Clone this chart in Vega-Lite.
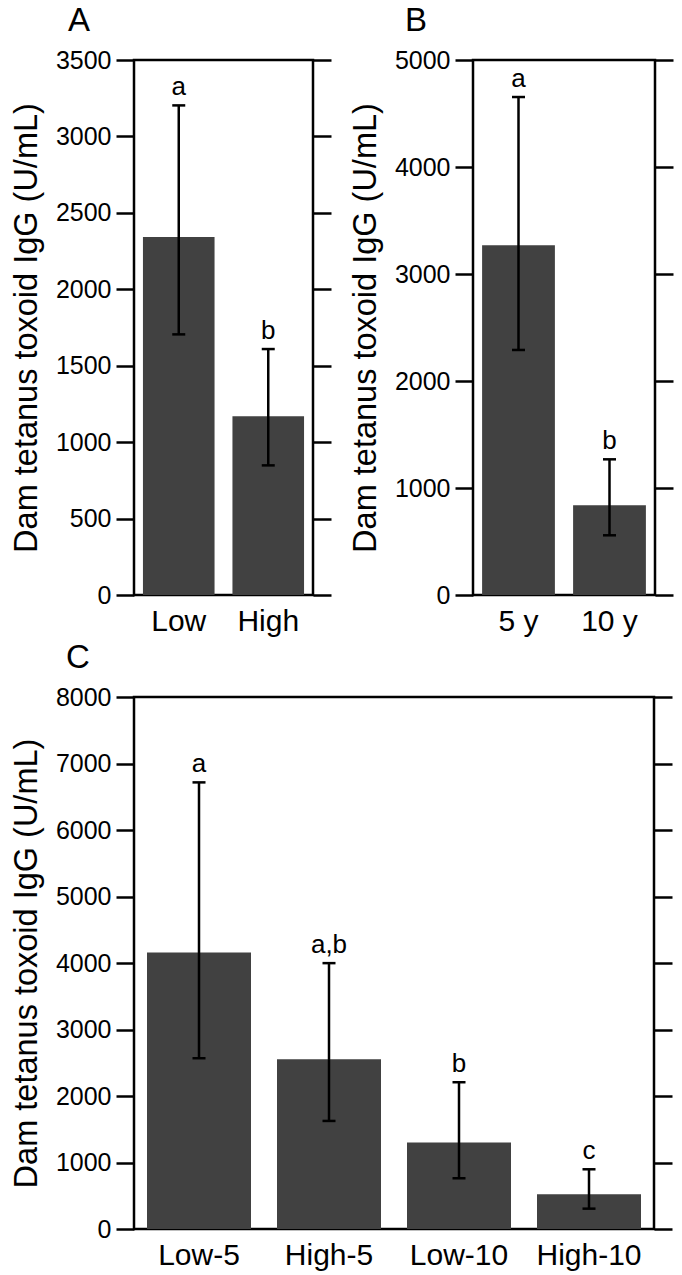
{
  "$schema": "https://vega.github.io/schema/vega-lite/v6.json",
  "padding": {"left": 9, "top": 3, "right": 2, "bottom": 0},
  "background": "white",
  "datasets": {
    "A": [
      {"group": "Low", "mean": 2342, "lo": 1705, "hi": 3203, "letter": "a"},
      {"group": "High", "mean": 1169, "lo": 848, "hi": 1609, "letter": "b"}
    ],
    "B": [
      {"group": "5 y", "mean": 3268, "lo": 2290, "hi": 4654, "letter": "a"},
      {"group": "10 y", "mean": 838, "lo": 558, "hi": 1268, "letter": "b"}
    ],
    "C": [
      {"group": "Low-5", "mean": 4157, "lo": 2568, "hi": 6716, "letter": "a"},
      {"group": "High-5", "mean": 2553, "lo": 1625, "hi": 3998, "letter": "a,b"},
      {"group": "Low-10", "mean": 1299, "lo": 763, "hi": 2207, "letter": "b"},
      {"group": "High-10", "mean": 522, "lo": 306, "hi": 898, "letter": "c"}
    ]
  },
  "spacing": 2,
  "vconcat": [
    {
      "spacing": 14,
      "hconcat": [
        {
          "title": {"text": "A", "dx": -66},
          "width": 179,
          "height": 535,
          "data": {"name": "A"},
          "encoding": {
            "x": {"field": "group", "type": "nominal", "sort": null, "scale": {"paddingInner": 0.2, "paddingOuter": 0.1}, "axis": {"title": null}}
          },
          "layer": [
            {"mark": {"type": "bar", "color": "#414141"},
             "encoding": {"y": {"field": "mean", "type": "quantitative", "scale": {"domain": [0, 3500], "nice": false}, "axis": {"orient": "left", "format": "d", "values": [0, 500, 1000, 1500, 2000, 2500, 3000, 3500], "title": "Dam tetanus toxoid IgG (U/mL)"}}}},
            {"mark": {"type": "rule", "color": "black", "strokeWidth": 2.5},
             "encoding": {"y": {"field": "lo", "type": "quantitative", "scale": {"domain": [0, 3500], "nice": false}, "axis": {"orient": "right", "values": [0, 500, 1000, 1500, 2000, 2500, 3000, 3500], "labels": false, "title": null}}, "y2": {"field": "hi"}}},
            {"mark": {"type": "tick", "color": "black", "size": 13, "thickness": 2.5, "opacity": 1},
             "encoding": {"y": {"field": "hi", "type": "quantitative", "scale": {"domain": [0, 3500], "nice": false}, "axis": null}}},
            {"mark": {"type": "tick", "color": "black", "size": 13, "thickness": 2.5, "opacity": 1},
             "encoding": {"y": {"field": "lo", "type": "quantitative", "scale": {"domain": [0, 3500], "nice": false}, "axis": null}}},
            {"mark": {"type": "text", "baseline": "alphabetic", "dy": -10, "fontSize": 26, "color": "black"},
             "encoding": {"y": {"field": "hi", "type": "quantitative", "scale": {"domain": [0, 3500], "nice": false}, "axis": null}, "text": {"field": "letter"}}}
          ],
          "resolve": {"scale": {"y": "independent"}}
        },
        {
          "title": {"text": "B", "dx": -68},
          "width": 182,
          "height": 535,
          "data": {"name": "B"},
          "encoding": {
            "x": {"field": "group", "type": "nominal", "sort": null, "scale": {"paddingInner": 0.2, "paddingOuter": 0.1}, "axis": {"title": null}}
          },
          "layer": [
            {"mark": {"type": "bar", "color": "#414141"},
             "encoding": {"y": {"field": "mean", "type": "quantitative", "scale": {"domain": [0, 5000], "nice": false}, "axis": {"orient": "left", "format": "d", "values": [0, 1000, 2000, 3000, 4000, 5000], "title": "Dam tetanus toxoid IgG (U/mL)"}}}},
            {"mark": {"type": "rule", "color": "black", "strokeWidth": 2.5},
             "encoding": {"y": {"field": "lo", "type": "quantitative", "scale": {"domain": [0, 5000], "nice": false}, "axis": {"orient": "right", "values": [0, 1000, 2000, 3000, 4000, 5000], "labels": false, "title": null}}, "y2": {"field": "hi"}}},
            {"mark": {"type": "tick", "color": "black", "size": 13, "thickness": 2.5, "opacity": 1},
             "encoding": {"y": {"field": "hi", "type": "quantitative", "scale": {"domain": [0, 5000], "nice": false}, "axis": null}}},
            {"mark": {"type": "tick", "color": "black", "size": 13, "thickness": 2.5, "opacity": 1},
             "encoding": {"y": {"field": "lo", "type": "quantitative", "scale": {"domain": [0, 5000], "nice": false}, "axis": null}}},
            {"mark": {"type": "text", "baseline": "alphabetic", "dy": -10, "fontSize": 26, "color": "black"},
             "encoding": {"y": {"field": "hi", "type": "quantitative", "scale": {"domain": [0, 5000], "nice": false}, "axis": null}, "text": {"field": "letter"}}}
          ],
          "resolve": {"scale": {"y": "independent"}}
        }
      ]
    },
    {
      "title": {"text": "C", "dx": -68},
      "width": 520,
      "height": 532,
      "data": {"name": "C"},
      "encoding": {
        "x": {"field": "group", "type": "nominal", "sort": null, "scale": {"paddingInner": 0.2, "paddingOuter": 0.1}, "axis": {"title": null}}
      },
      "layer": [
        {"mark": {"type": "bar", "color": "#414141"},
         "encoding": {"y": {"field": "mean", "type": "quantitative", "scale": {"domain": [0, 8000], "nice": false}, "axis": {"orient": "left", "format": "d", "values": [0, 1000, 2000, 3000, 4000, 5000, 6000, 7000, 8000], "title": "Dam tetanus toxoid IgG (U/mL)"}}}},
        {"mark": {"type": "rule", "color": "black", "strokeWidth": 2.5},
         "encoding": {"y": {"field": "lo", "type": "quantitative", "scale": {"domain": [0, 8000], "nice": false}, "axis": {"orient": "right", "values": [0, 1000, 2000, 3000, 4000, 5000, 6000, 7000, 8000], "labels": false, "title": null}}, "y2": {"field": "hi"}}},
        {"mark": {"type": "tick", "color": "black", "size": 13, "thickness": 2.5, "opacity": 1},
         "encoding": {"y": {"field": "hi", "type": "quantitative", "scale": {"domain": [0, 8000], "nice": false}, "axis": null}}},
        {"mark": {"type": "tick", "color": "black", "size": 13, "thickness": 2.5, "opacity": 1},
         "encoding": {"y": {"field": "lo", "type": "quantitative", "scale": {"domain": [0, 8000], "nice": false}, "axis": null}}},
        {"mark": {"type": "text", "baseline": "alphabetic", "dy": -10, "fontSize": 26, "color": "black"},
         "encoding": {"y": {"field": "hi", "type": "quantitative", "scale": {"domain": [0, 8000], "nice": false}, "axis": null}, "text": {"field": "letter"}}}
      ],
      "resolve": {"scale": {"y": "independent"}}
    }
  ],
  "config": {
    "font": "Liberation Sans",
    "view": {"stroke": "black", "strokeWidth": 2.5},
    "title": {"anchor": "start", "frame": "group", "fontSize": 33, "fontWeight": "normal", "color": "black", "baseline": "alphabetic", "offset": 10, "font": "Liberation Sans"},
    "axis": {"grid": false, "domain": false, "labelColor": "black", "titleColor": "black", "tickColor": "black", "tickWidth": 2.5, "tickSize": 18, "labelFontSize": 25, "titleFontSize": 32.5, "titleFontWeight": "normal", "labelPadding": 5, "titlePadding": 12, "labelFont": "Liberation Sans", "titleFont": "Liberation Sans"},
    "axisX": {"ticks": false, "labelAngle": 0, "labelFontSize": 30, "labelPadding": 11},
    "text": {"font": "Liberation Sans"}
  }
}
